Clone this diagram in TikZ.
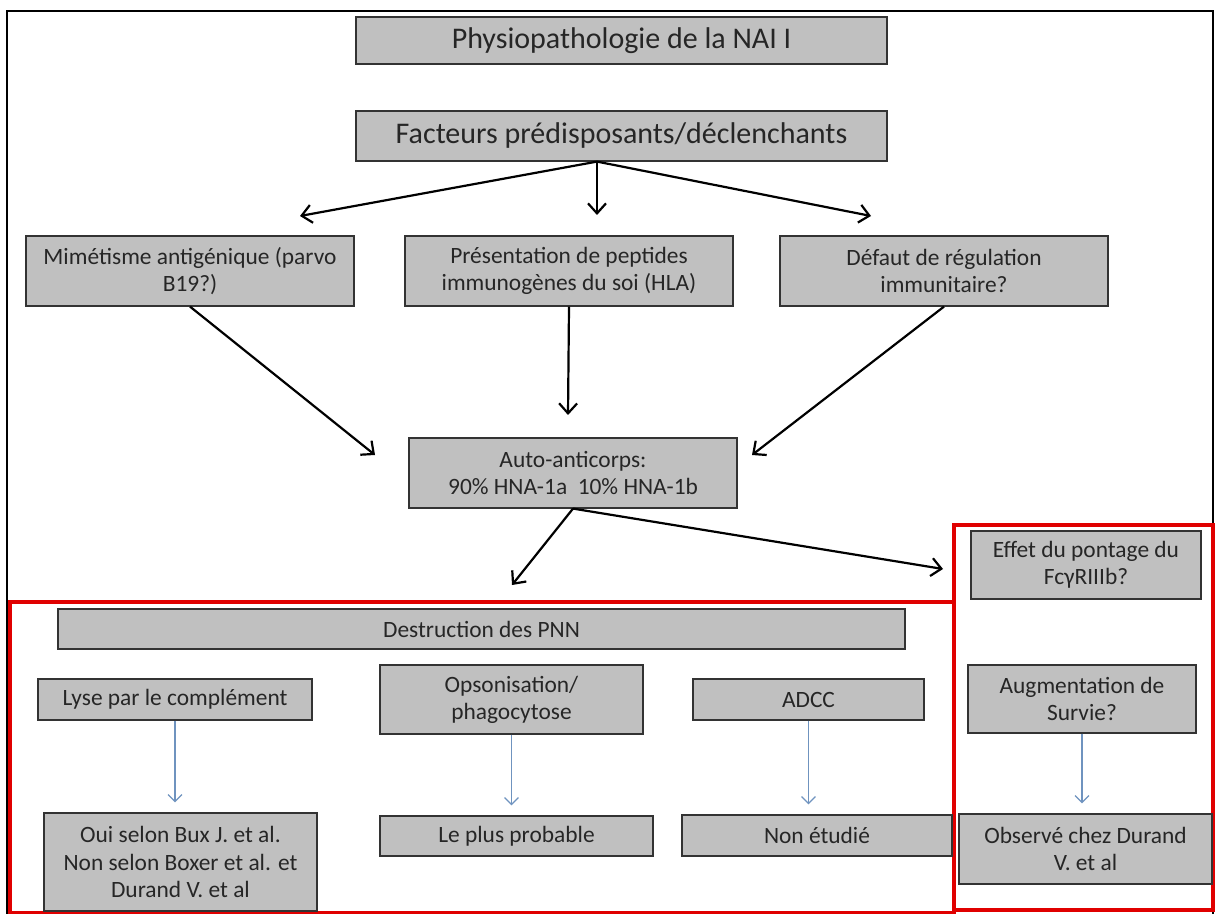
\documentclass[tikz,border=0pt]{standalone}
\usepackage{fontspec}
\setmainfont{Carlito}
\usetikzlibrary{arrows.meta}
\definecolor{boxgris}{HTML}{C0C0C0}
\definecolor{rougecadre}{HTML}{E00000}
\definecolor{bleufleche}{HTML}{6F93BF}

\begin{document}
\begin{tikzpicture}[x=0.5pt, y=-0.5pt,
    boite/.style={draw=black!80, line width=0.6pt, fill=boxgris, text=black!85,
        align=center, inner sep=0pt, font=\fontsize{11.7}{13.6}\selectfont},
    taille/.style 2 args={minimum width=0.5pt*#1, minimum height=0.5pt*#2},
    noire/.style={-{Straight Barb[length=5pt, width=9pt]}, line width=1.1pt},
    bleue/.style={-{Straight Barb[length=3.5pt, width=7pt]}, bleufleche, line width=0.6pt}]

    % 背景与外框
    \useasboundingbox[fill=white] (0,0) rectangle (1215,914);
    \draw[line width=1.2pt] (7,11) rectangle (1213,930);

    % 红色区域
    \draw[rougecadre, line width=1.6pt] (10,602) rectangle (954,913);
    \draw[rougecadre, line width=1.6pt] (954,525) rectangle (1213,910);

    % 上部方框
    \node[boite, taille={531}{47}, font=\fontsize{15}{18}\selectfont] (titre) at (621.5,40.5)
        {Physiopathologie de la NAI I};
    \node[boite, taille={531}{50}, font=\fontsize{15}{18}\selectfont] (facteurs) at (621.5,136)
        {Facteurs prédisposants/déclenchants};

    \node[boite, taille={328}{70}] (mimetisme) at (190,271) {Mimétisme antigénique (parvo\\B19?)};
    \node[boite, taille={328}{70}] (presentation) at (569,271) {Présentation de peptides\\immunogènes du soi (HLA)};
    \node[boite, taille={328}{70}] (defaut) at (944,271) {Défaut de régulation\\immunitaire?};

    \node[boite, taille={328}{70}] (auto) at (573,473) {Auto-anticorps:\\90\% HNA-1a\ \ 10\% HNA-1b};

    % 下部方框
    \node[boite, taille={847}{40}] (destruction) at (481.5,629) {Destruction des PNN};
    \node[boite, taille={274}{41}] (lyse) at (175,699.5) {Lyse par le complément};
    \node[boite, taille={263}{69}] (opso) at (511.5,699.5) {Opsonisation/\\phagocytose};
    \node[boite, taille={231}{41}] (adcc) at (808.5,699.5) {ADCC};

    \node[boite, taille={273}{98}] (oui) at (180.5,862) {Oui selon Bux J. et al.\\Non selon Boxer et al. et\\Durand V. et al};
    \node[boite, taille={273}{40}] (plus) at (516.5,836) {Le plus probable};
    \node[boite, taille={270}{41}] (non) at (817,835.5) {Non étudié};

    \node[boite, taille={230}{68}] (effet) at (1086,565) {Effet du pontage du\\FcγRIIIb?};
    \node[boite, taille={228}{68}] (augm) at (1082,699) {Augmentation de\\Survie?};
    \node[boite, taille={253}{70}] (obs) at (1085.5,849) {Observé chez Durand\\V. et al};

    % 箭头终点
    \coordinate (fg) at (300,216);
    \coordinate (fm) at (597,215);
    \coordinate (fd) at (871,216);
    \coordinate (ag) at (375,455);
    \coordinate (am) at (568,415);
    \coordinate (ad) at (752,455);
    \coordinate (dg) at (512,585);
    \coordinate (dd) at (943,569);

    % 黑色箭头
    \foreach \fin in {fg, fm, fd} {
        \draw[noire] ([xshift=-12.25pt]facteurs.south) -- (\fin);
    }
    \draw[noire] (mimetisme.south) -- (ag);
    \draw[noire] (presentation.south) -- (am);
    \draw[noire] (defaut.south) -- (ad);
    \draw[noire] (auto.south) -- (dg);
    \draw[noire] (auto.south) -- (dd);

    % 蓝色箭头
    \foreach \src/\dst in {lyse/oui, opso/plus, adcc/non, augm/obs} {
        \draw[bleue, shorten >=5pt] (\src.south) -- (\src.south |- \dst.north);
    }

\end{tikzpicture}
\end{document}
